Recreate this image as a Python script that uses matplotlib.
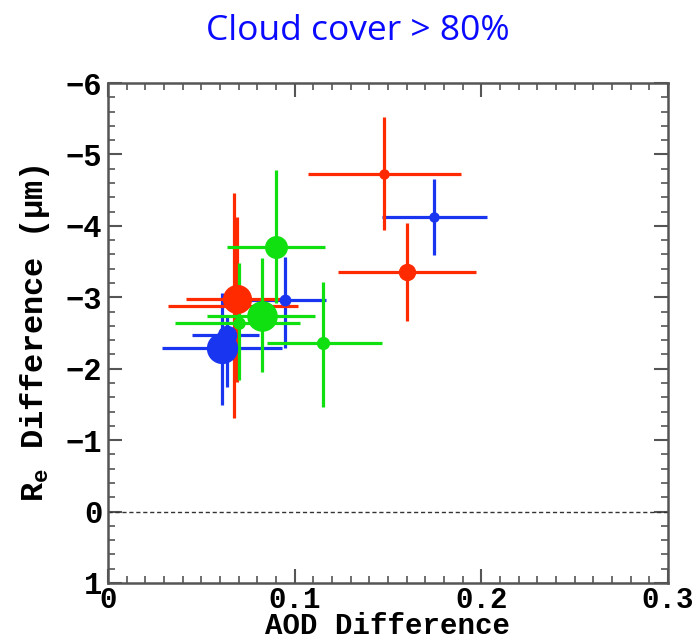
import matplotlib
matplotlib.use('Agg')
import matplotlib.pyplot as plt
import numpy as np
from matplotlib.ticker import MultipleLocator

# AOD difference / Re difference with error bar extents, one list per colour
red_x = [0.148, 0.160, 0.0675, 0.069]
red_y = [-4.73, -3.35, -2.88, -2.97]
red_xlo = [0.107, 0.123, 0.032, 0.042]
red_xhi = [0.189, 0.197, 0.102, 0.095]
red_ylo = [-5.52, -4.04, -4.46, -4.13]
red_yhi = [-3.94, -2.67, -1.31, -1.82]
red_ms = [6.5, 11.5, 8, 20]

green_x = [0.090, 0.1154, 0.0703, 0.0823]
green_y = [-3.71, -2.36, -2.64, -2.74]
green_xlo = [0.0636, 0.085, 0.036, 0.053]
green_xhi = [0.1162, 0.147, 0.103, 0.111]
green_ylo = [-4.78, -3.22, -3.48, -3.55]
green_yhi = [-2.92, -1.47, -1.84, -1.96]
green_ms = [15.5, 8.5, 8, 21]

blue_x = [0.1748, 0.0948, 0.0636, 0.0609]
blue_y = [-4.12, -2.96, -2.47, -2.29]
blue_xlo = [0.147, 0.061, 0.045, 0.029]
blue_xhi = [0.203, 0.117, 0.081, 0.093]
blue_ylo = [-4.65, -3.57, -2.73, -3.06]
blue_yhi = [-3.59, -2.29, -1.75, -1.49]
blue_ms = [6.5, 7.5, 13, 21.5]

series = [
    ('#1a35f0', blue_x, blue_y, blue_xlo, blue_xhi, blue_ylo, blue_yhi, blue_ms),
    ('#ff2a00', red_x, red_y, red_xlo, red_xhi, red_ylo, red_yhi, red_ms),
    ('#10e010', green_x, green_y, green_xlo, green_xhi, green_ylo, green_yhi, green_ms),
]

mono = 'Liberation Mono'

fig = plt.figure(figsize=(6.98, 6.41), dpi=100)
ax = fig.add_axes([0.1547, 0.0905, 0.8023, 0.78])

for color, xs, ys, xlo, xhi, ylo, yhi, ms in series:
    for i in range(len(xs)):
        xerr = [[xs[i] - xlo[i]], [xhi[i] - xs[i]]]
        yerr = [[ys[i] - ylo[i]], [yhi[i] - ys[i]]]
        ax.errorbar(xs[i], ys[i], xerr=xerr, yerr=yerr, fmt='o', color=color,
                    ms=ms[i], elinewidth=2.3, capsize=0, mec=color)

ax.axhline(0, color='#333333', lw=1, ls=(0, (3, 2)))

ax.set_xlim(0, 0.3)
ax.set_ylim(1, -6)
ax.xaxis.set_minor_locator(MultipleLocator(0.01))
ax.yaxis.set_minor_locator(MultipleLocator(0.2))
ax.set_xticks([0, 0.1, 0.2, 0.3])
ax.set_xticklabels(['0', '0.1', '0.2', '0.3'])
ax.set_yticks(range(-6, 2))
ax.set_yticklabels(['\u22126', '\u22125', '\u22124', '\u22123', '\u22122', '\u22121', '0', '1'])

ax.tick_params(which='both', direction='in', top=True, right=True, color='#555555')
ax.tick_params(which='major', length=10, width=1.5, pad=4)
ax.tick_params(axis='x', which='major', pad=2.5)
ax.tick_params(which='minor', length=5, width=1.2)
for lab in ax.get_yticklabels():
    lab.set_fontfamily([mono, 'DejaVu Sans Mono'])
    lab.set_fontweight('bold')
    lab.set_fontsize(22)
for lab in ax.get_xticklabels():
    lab.set_fontfamily([mono, 'DejaVu Sans Mono'])
    lab.set_fontweight('bold')
    lab.set_fontsize(21)
for sp in ax.spines.values():
    sp.set_color('#555555')
    sp.set_linewidth(1.8)

ax.set_xlabel('AOD Difference', fontfamily=mono, fontweight='bold', fontsize=21)
ax.set_ylabel(r'R$_\mathregular{e}$ Difference (μm)', fontfamily=mono, fontweight='bold',
              fontsize=23)
ax.xaxis.set_label_coords(0.5, -0.115)
ax.xaxis.label.set_va('bottom')
ax.yaxis.set_label_coords(-0.10, 0.5)

fig.text(0.512, 0.937, 'Cloud cover > 80%', color='#0a0aff', fontsize=25.5,
         fontfamily='Open Sans', ha='center', va='baseline')

fig.savefig('out.png', dpi=100)
